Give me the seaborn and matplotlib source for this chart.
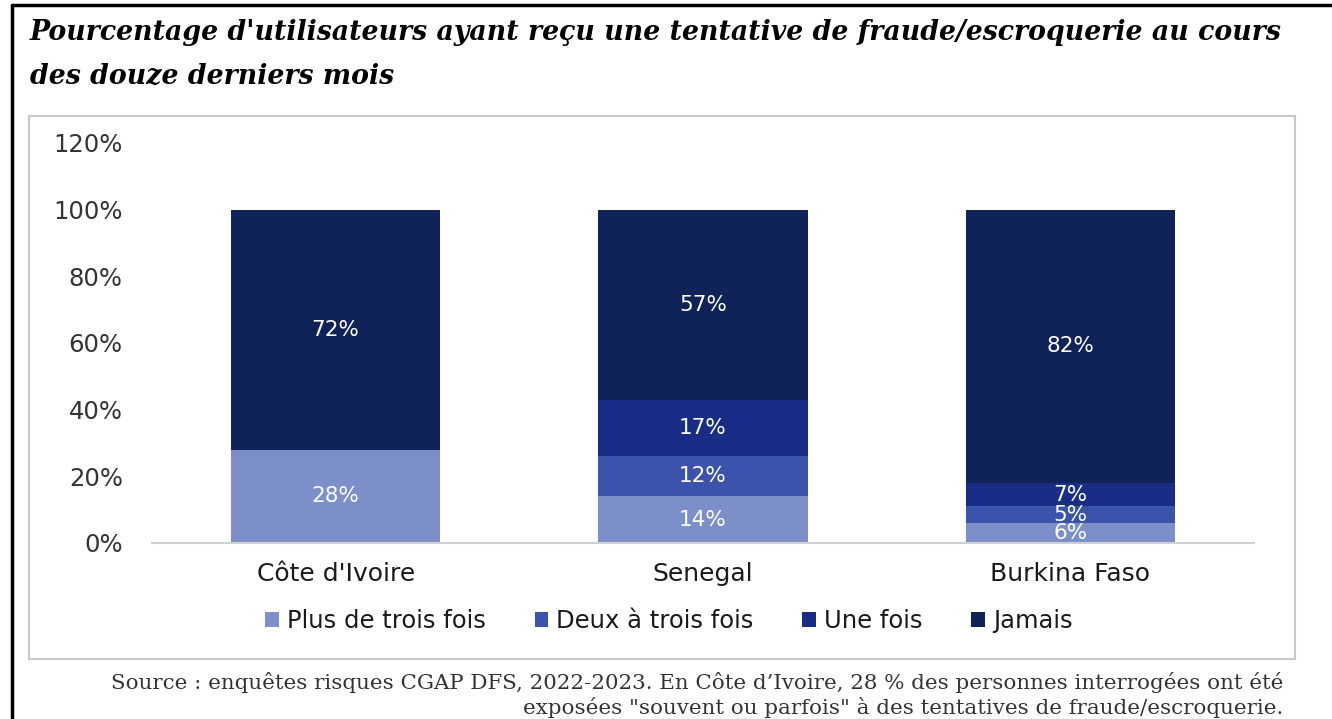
import matplotlib
matplotlib.use("Agg")
import matplotlib.pyplot as plt
from matplotlib.patches import Patch, Rectangle
from matplotlib.lines import Line2D
import seaborn as sns
import pandas as pd
import numpy as np

countries = ["Côte d'Ivoire", "Senegal", "Burkina Faso"]
series_names = ["Plus de trois fois", "Deux à trois fois", "Une fois", "Jamais"]
plus_trois = [28, 14, 6]
deux_trois = [0, 12, 5]
une_fois = [0, 17, 7]
jamais = [72, 57, 82]
yticks = [0, 20, 40, 60, 80, 100, 120]

colors = ["#7D8FC8", "#3C53AC", "#192D86", "#0F2359"]

title = ("Pourcentage d'utilisateurs ayant reçu une tentative de fraude/escroquerie au cours\n"
         "des douze derniers mois")
source = ("Source : enquêtes risques CGAP DFS, 2022-2023. En Côte d’Ivoire, 28 % des personnes interrogées ont été\n"
          "exposées \"souvent ou parfois\" à des tentatives de fraude/escroquerie.")

sns.set_theme(style="white")
plt.rcParams['font.family'] = ['DejaVu Sans']

fig = plt.figure(figsize=(13.32, 7.19), dpi=100)
ax = fig.add_axes([152/1332, 1-543/719, (1254-152)/1332, 400/719])

values = [plus_trois, deux_trois, une_fois, jamais]
cum = np.cumsum(np.array(values, dtype=float), axis=0)

# draw cumulative bars from top to bottom to create stacked effect
for i in range(3, -1, -1):
    df = pd.DataFrame({"country": countries, "value": cum[i]})
    sns.barplot(data=df, x="country", y="value", color=colors[i], width=0.57,
                saturation=1, ax=ax, edgecolor="none", linewidth=0)

# labels
for j in range(len(countries)):
    for i in range(4):
        v = values[i][j]
        if v <= 0:
            continue
        base = cum[i][j] - v
        ax.text(j, base + v / 2, f"{v}%", ha="center", va="center",
                color="white", fontsize=15.5)

ax.set_xlim(-0.5, 2.5)
ax.set_ylim(0, 120)
ax.set_yticks(yticks)
ax.set_yticklabels([f"{t}%" for t in yticks], fontsize=17.5, color="#333333")
ax.tick_params(axis="x", labelsize=18, labelcolor="#1a1a1a", length=0, pad=14)
ax.tick_params(axis="y", length=0, pad=21)
ax.set_xlabel("")
ax.set_ylabel("")
for s in ["top", "right", "left"]:
    ax.spines[s].set_visible(False)
ax.spines["bottom"].set_color("#D0D0D0")
ax.spines["bottom"].set_linewidth(1.5)
ax.grid(False)

handles = [Patch(facecolor=c, edgecolor="none") for c in colors]
fig.legend(handles, series_names, loc="center", bbox_to_anchor=(669/1332, 1-621/719),
           ncol=4, frameon=False, fontsize=17.5, handlelength=0.55, handleheight=0.55,
           handletextpad=0.35, columnspacing=2.0, labelcolor="#1a1a1a")

# inner gray frame
fig.patches.append(Rectangle((29/1332, 1-659/719), (1295-29)/1332, (659-116)/719,
                             transform=fig.transFigure, fill=False,
                             edgecolor="#C8C8C8", linewidth=1.5))
# outer black border lines (top and left)
fig.lines.append(Line2D([11.5/1332, 1], [1-4.5/719, 1-4.5/719], transform=fig.transFigure,
                        color="black", linewidth=2.5))
fig.lines.append(Line2D([11.5/1332, 11.5/1332], [0, 1-4.5/719], transform=fig.transFigure,
                        color="black", linewidth=2.5))

fig.text(30/1332, 1-19/719, title, ha="left", va="top", fontsize=19.3,
         family=["DejaVu Serif"], fontweight="bold", fontstyle="italic",
         color="black", linespacing=1.82)
fig.text(1283/1332, 1-672/719, source, ha="right", va="top", fontsize=15.4,
         family=["DejaVu Serif"], color="#333333", multialignment="right",
         linespacing=1.22)

fig.savefig("out.png", dpi=100)
